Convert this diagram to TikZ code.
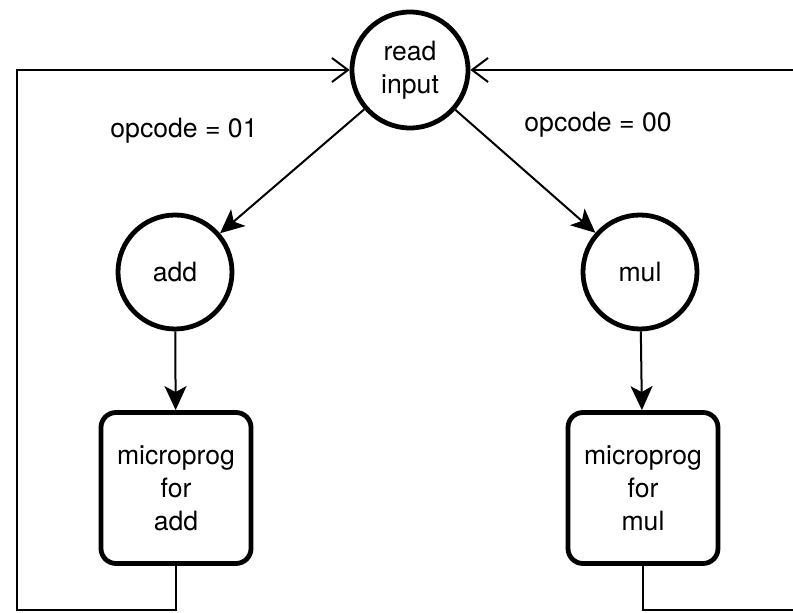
\documentclass[tikz,border=0pt]{standalone}
\usepackage{fontspec}
\setmainfont{TeX Gyre Heros}
\usetikzlibrary{arrows.meta,positioning}

\begin{document}
\begin{tikzpicture}[x=0.5pt,y=-0.5pt,font=\fontsize{13.3}{16.5}\selectfont,
    state/.style={circle,draw,line width=2.4pt,minimum size=57pt,inner sep=0pt,align=center},
    prog/.style={rectangle,rounded corners=7.5pt,draw,line width=2.4pt,minimum width=75pt,minimum height=75.5pt,align=center},
    flow/.style={line width=1pt,-{Stealth[length=12pt,width=11pt,inset=3pt]}},
    back/.style={line width=1pt,-{Straight Barb[length=8pt,width=12pt]}}]
  \useasboundingbox (0,0) rectangle (793,613);
  \node[state,minimum size=58pt] (read) at (410,70) {read\\input};
  \node[state] (add) at (175,272) {add};
  \node[state] (mul) at (640,272) {mul};
  \node[prog] (addprog) at (176,488) {microprog\\for\\add};
  \node[prog] (mulprog) at (643,488) {microprog\\for\\mul};
  \node (lbl01) at (184,131) {opcode = 01};
  \node (lbl00) at (598,125) {opcode = 00};
  % loop corners
  \coordinate (lb) at (17,610);
  \coordinate (lt) at (17,70);
  \coordinate (rb) at (795,610);
  \coordinate (rt) at (795,70);
  \draw[flow] (read) -- (add);
  \draw[flow] (read) -- (mul);
  \draw[flow] (add) -- (addprog);
  \draw[flow] (mul) -- (mulprog);
  \draw[back] (addprog.south) |- (lb) -- (lt) -- (read.west);
  \draw[line width=1pt] (mulprog.south) |- (rb);
  \draw[back] (rt) -- (read.east);
\end{tikzpicture}
\end{document}
